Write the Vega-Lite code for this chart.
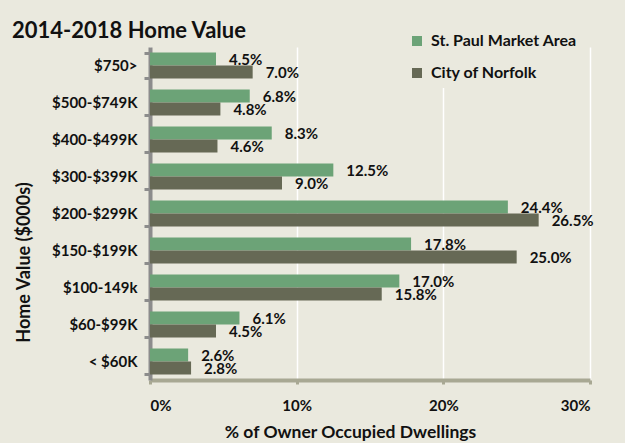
{
  "$schema": "https://vega.github.io/schema/vega-lite/v6.json",
  "width": 440,
  "height": 333,
  "autosize": {"type": "none"},
  "padding": {"left": 150, "top": 47, "right": 35, "bottom": 63},
  "background": "#eae9de",
  "config": {
    "view": {"stroke": null},
    "font": "Lato"
  },
  "title": {
    "text": "2014-2018 Home Value",
    "anchor": "start",
    "frame": "group",
    "dx": -138,
    "dy": 43,
    "offset": 9,
    "baseline": "alphabetic",
    "fontSize": 22,
    "fontWeight": "bold",
    "font": "Lato",
    "color": "#111111"
  },
  "data": {
    "values": [
      {"cat": "$750>", "series": "St. Paul Market Area", "v": 4.5},
      {"cat": "$750>", "series": "City of Norfolk", "v": 7.0},
      {"cat": "$500-$749K", "series": "St. Paul Market Area", "v": 6.8},
      {"cat": "$500-$749K", "series": "City of Norfolk", "v": 4.8},
      {"cat": "$400-$499K", "series": "St. Paul Market Area", "v": 8.3},
      {"cat": "$400-$499K", "series": "City of Norfolk", "v": 4.6},
      {"cat": "$300-$399K", "series": "St. Paul Market Area", "v": 12.5},
      {"cat": "$300-$399K", "series": "City of Norfolk", "v": 9.0},
      {"cat": "$200-$299K", "series": "St. Paul Market Area", "v": 24.4},
      {"cat": "$200-$299K", "series": "City of Norfolk", "v": 26.5},
      {"cat": "$150-$199K", "series": "St. Paul Market Area", "v": 17.8},
      {"cat": "$150-$199K", "series": "City of Norfolk", "v": 25.0},
      {"cat": "$100-149k", "series": "St. Paul Market Area", "v": 17.0},
      {"cat": "$100-149k", "series": "City of Norfolk", "v": 15.8},
      {"cat": "$60-$99K", "series": "St. Paul Market Area", "v": 6.1},
      {"cat": "$60-$99K", "series": "City of Norfolk", "v": 4.5},
      {"cat": "< $60K", "series": "St. Paul Market Area", "v": 2.6},
      {"cat": "< $60K", "series": "City of Norfolk", "v": 2.8}
    ]
  },
  "encoding": {
    "y": {
      "field": "cat",
      "type": "nominal",
      "sort": null,
      "scale": {"paddingInner": 0.3, "paddingOuter": 0.15},
      "axis": {
        "title": "Home Value ($000s)",
        "titleFontSize": 18,
        "titleFont": "Lato",
        "titleFontWeight": "bold",
        "titleColor": "#111111",
        "titleX": -126,
        "titleY": 215,
        "titleBaseline": "middle",
        "titleAlign": "center",
        "titleAngle": 270,
        "labelFontSize": 15,
        "labelFont": "Lato",
        "labelFontWeight": "bold",
        "labelColor": "#111111",
        "labelPadding": 7,
        "tickBand": "extent",
        "tickSize": 6,
        "tickWidth": 3,
        "tickColor": "#8c8c8c",
        "domainColor": "#8c8c8c",
        "domainWidth": 4,
        "grid": false
      }
    },
    "yOffset": {
      "field": "series",
      "type": "nominal",
      "sort": ["St. Paul Market Area", "City of Norfolk"]
    },
    "x": {
      "field": "v",
      "type": "quantitative",
      "scale": {"domain": [0, 30]},
      "axis": {
        "title": "% of Owner Occupied Dwellings",
        "titleFontSize": 17.5,
        "titleFont": "Lato",
        "titleFontWeight": "bold",
        "titleColor": "#111111",
        "titleX": 200,
        "titleY": 52,
        "titleBaseline": "middle",
        "values": [0, 10, 20, 30],
        "labelExpr": "datum.value + '%'",
        "labelFontSize": 15,
        "labelFont": "Lato",
        "labelFontWeight": "bold",
        "labelColor": "#111111",
        "labelPadding": 14,
        "tickSize": 4,
        "tickWidth": 3,
        "tickColor": "#a8a893",
        "domainColor": "#a8a893",
        "domainWidth": 4,
        "grid": true,
        "gridColor": "#ffffff",
        "gridWidth": 1.5
      }
    }
  },
  "layer": [
    {
      "mark": {"type": "bar"},
      "encoding": {
        "color": {
          "field": "series",
          "type": "nominal",
          "sort": ["St. Paul Market Area", "City of Norfolk"],
          "scale": {"domain": ["St. Paul Market Area", "City of Norfolk"], "range": ["#6ca377", "#666955"]},
          "legend": {
            "title": null,
            "orient": "none",
            "legendX": 252,
            "legendY": -21,
            "padding": 7,
            "fillColor": "#eae9de",
            "symbolType": "square",
            "symbolSize": 100,
            "symbolStrokeWidth": 0,
            "rowPadding": 16,
            "labelOffset": 6,
            "labelFontSize": 16,
            "labelFont": "Lato",
            "labelFontWeight": "bold",
            "labelColor": "#111111"
          }
        }
      }
    },
    {
      "mark": {"type": "text", "align": "left", "baseline": "alphabetic", "dx": 13, "dy": 6, "fontSize": 15, "fontWeight": "bold", "font": "Lato", "color": "#111111", "text": {"expr": "format(datum.v, '.1f') + '%'"}},
      "encoding": {
        "detail": {"field": "series"}
      }
    }
  ]
}
